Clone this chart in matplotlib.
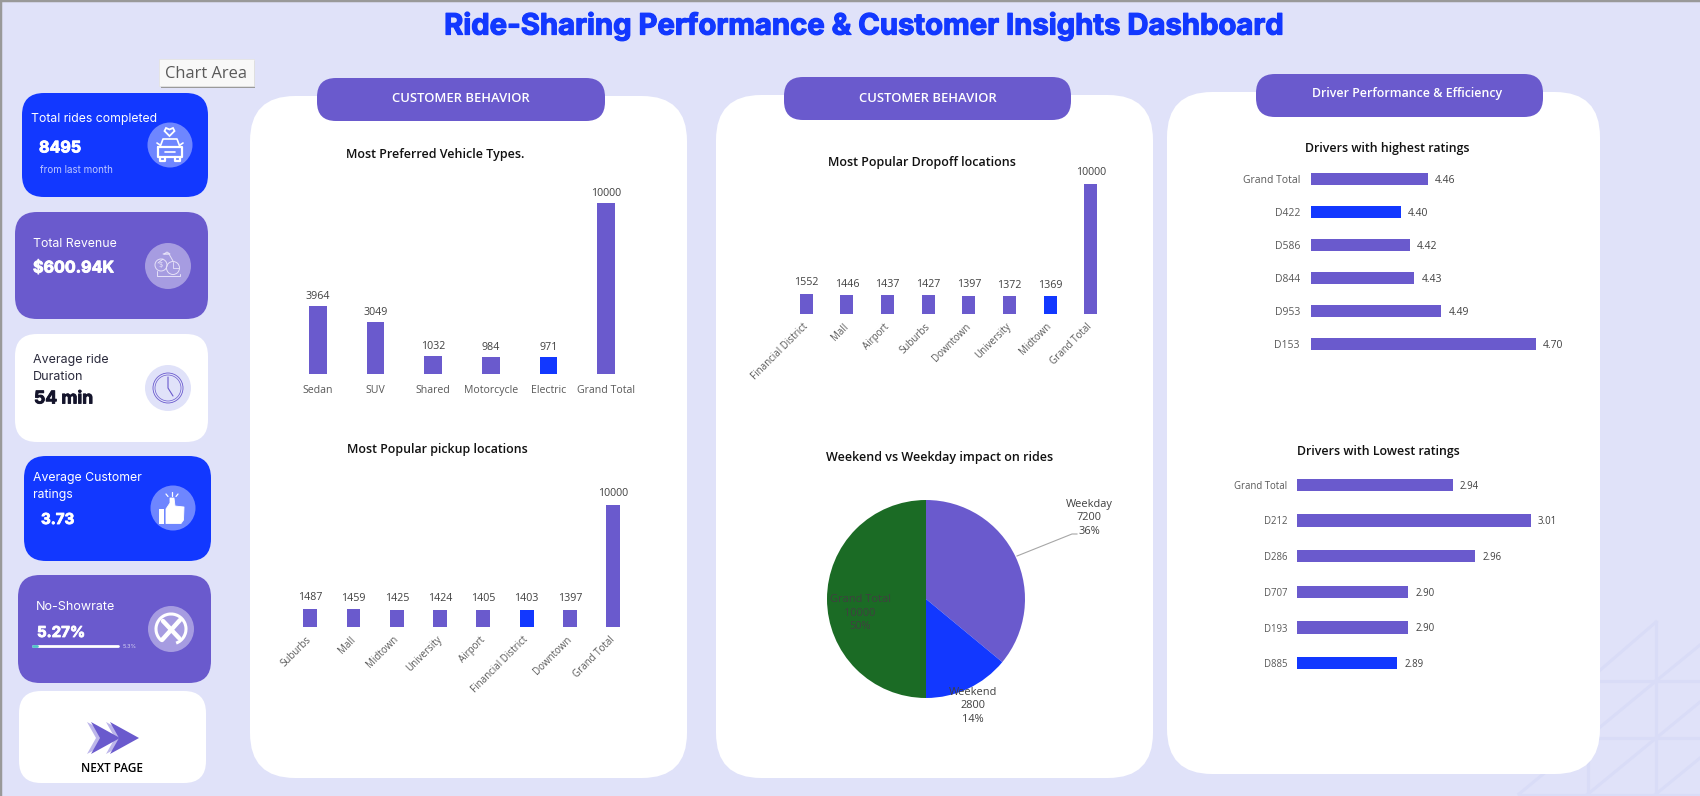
import numpy as np
import matplotlib
matplotlib.use('Agg')
import matplotlib.pyplot as plt
import matplotlib.patheffects as pe
from matplotlib.patches import FancyBboxPatch, Circle, Polygon, Arc, Rectangle

W, H = 1700, 796
BG = '#E0E2F9'
PURPLE = '#6A5ACD'
BLUE = '#1238FF'
GREEN = '#1B6B25'
HEAD_FONT = 'Inter'
BODY_FONT = 'Open Sans'

vehicle_types = ['Sedan', 'SUV', 'Shared', 'Motorcycle', 'Electric', 'Grand Total']
vehicle_rides = [3964, 3049, 1032, 984, 971, 10000]

pickup_places = ['Suburbs', 'Mall', 'Midtown', 'University', 'Airport', 'Financial District', 'Downtown', 'Grand Total']
pickup_rides = [1487, 1459, 1425, 1424, 1405, 1403, 1397, 10000]

dropoff_places = ['Financial District', 'Mall', 'Airport', 'Suburbs', 'Downtown', 'University', 'Midtown', 'Grand Total']
dropoff_rides = [1552, 1446, 1437, 1427, 1397, 1372, 1369, 10000]

day_types = ['Weekday', 'Weekend', 'Grand Total']
day_rides = [7200, 2800, 10000]
day_share = ['36%', '14%', '50%']

top_drivers = ['Grand Total', 'D422', 'D586', 'D844', 'D953', 'D153']
top_ratings = [4.46, 4.40, 4.42, 4.43, 4.49, 4.70]

low_drivers = ['Grand Total', 'D212', 'D286', 'D707', 'D193', 'D885']
low_ratings = [2.94, 3.01, 2.96, 2.90, 2.90, 2.89]

plt.rcParams['font.family'] = [BODY_FONT, 'DejaVu Sans']

fig = plt.figure(figsize=(W / 100, H / 100), dpi=100, facecolor=BG)
bg = fig.add_axes([0, 0, 1, 1], zorder=0)
bg.set_xlim(0, W)
bg.set_ylim(H, 0)
bg.axis('off')
renderer = fig.canvas.get_renderer()


def add_ax(x0, y0, x1, y1):
    ax = fig.add_axes([x0 / W, 1 - y1 / H, (x1 - x0) / W, (y1 - y0) / H], zorder=2)
    ax.patch.set_alpha(0)
    for s in ax.spines.values():
        s.set_visible(False)
    ax.tick_params(length=0)
    return ax


def txt(x, y, s, w=None, size=10, **kw):
    # w is the wanted text width in pixels, font size gets scaled to reach it
    kw.setdefault('va', 'center')
    t = bg.text(x, y, s, fontsize=size, **kw)
    if w:
        t.set_fontsize(size * w / t.get_window_extent(renderer).width)
    return t


def box(x0, y0, x1, y1, r, color, z=1, **kw):
    p = FancyBboxPatch((x0, y0), x1 - x0, y1 - y0, boxstyle='round,pad=0,rounding_size=%s' % r,
                       fc=color, ec='none', zorder=z, **kw)
    bg.add_patch(p)
    return p


def line(xs, ys, color='white', lw=1.2, z=5):
    bg.plot(xs, ys, color=color, lw=lw, solid_capstyle='round', solid_joinstyle='round', zorder=z)


# window edge
bg.plot([0, 0], [0, H], color='#999999', lw=2.5, zorder=9)
bg.plot([0, W], [0, 0], color='#999999', lw=2.5, zorder=9)

# triangle pattern in the lower right corner
PAT = '#D9DCF7'
for seg in [((1656, 1656), (622, 796)), ((1588, 1588), (740, 796)), ((1519, 1700), (794.5, 794.5)),
            ((1560, 1700), (681, 681)), ((1560, 1700), (738, 738)), ((1656, 1540), (622, 722)),
            ((1656, 1519), (681, 794)), ((1700, 1656), (645, 681)), ((1700, 1588), (702, 794)),
            ((1700, 1656), (758, 794))]:
    bg.plot(seg[0], seg[1], color=PAT, lw=2.2, zorder=0.5)

title = txt(864, 26.5, 'Ride-Sharing Performance & Customer Insights Dashboard', w=842, size=24, color=BLUE,
            ha='center', family=HEAD_FONT, weight='bold')
title.set_path_effects([pe.withStroke(linewidth=0.9, foreground=BLUE)])

# white panels and their header pills
box(250, 96, 687, 778, 45, 'white')
box(716, 95, 1153, 778, 45, 'white')
box(1167, 92, 1600, 774, 45, 'white')
box(317, 78, 605, 121, 19, PURPLE, z=3)
box(784, 77, 1071, 120, 19, PURPLE, z=3)
box(1256, 74, 1543, 117, 19, PURPLE, z=3)
txt(461, 98, 'CUSTOMER BEHAVIOR', w=137, color='white', ha='center', weight='semibold', zorder=4)
txt(928, 98, 'CUSTOMER BEHAVIOR', w=137, color='white', ha='center', weight='semibold', zorder=4)
txt(1407, 93, 'Driver Performance & Efficiency', w=190, color='white', ha='center', weight='semibold', zorder=4)

# KPI cards
box(22, 93, 208, 197, 22, BLUE)
box(15, 212, 208, 319, 22, PURPLE)
box(15, 334, 208, 442, 22, 'white')
box(24, 456, 211, 561, 22, BLUE)
box(18, 575, 211, 683, 22, PURPLE)
box(19, 691, 206, 783, 22, 'white')


def head(x, y, s, w, color='white', bold=False):
    t = txt(x, y + 1, s, w=w, color=color, family=HEAD_FONT, weight='bold' if bold else 'normal', zorder=4)
    if bold:
        t.set_path_effects([pe.withStroke(linewidth=0.6, foreground=color)])


head(31, 118, 'Total rides completed', 126)
head(39, 147, '8495', 42, bold=True)
head(40, 169, 'from last month', 73, color='#BCC6FF')
head(33, 243, 'Total Revenue', 84)
head(33, 267, '$600.94K', 81, bold=True)
head(33, 359, 'Average ride', 76, color='#2A2A3C')
head(33, 376, 'Duration', 51, color='#2A2A3C')
head(34, 398, '54 min', 59, color='#14142B', bold=True)
head(33, 477, 'Average Customer', 109)
head(33, 494, 'ratings', 40)
head(41, 519, '3.73', 33, bold=True)
head(36, 606, 'No-Showrate', 79)
head(37, 632, '5.27%', 48, bold=True)
head(123, 645, '5.3%', 14, color='#DAD6F3')
line([33, 118], [646, 646], lw=2)
line([33, 37], [646, 646], color='#4FC3C7', lw=2, z=6)

# car with a heart over it
bg.add_patch(Circle((170, 145), 22.5, fc='#6E86FF', ec='none', zorder=3))
line([160, 163, 177, 180], [147, 139, 139, 147])
line([158, 182, 182, 158, 158], [147, 147, 157, 157, 147], lw=1.6)
line([160, 160, 165, 165], [157, 161, 161, 157], lw=1.6)
line([175, 175, 180, 180], [157, 161, 161, 157], lw=1.6)
line([165, 175], [152, 152])
line([157, 160], [143, 145])
line([183, 180], [143, 145])
bg.add_patch(Polygon([(169.5, 136), (164.5, 131), (166, 128), (169.5, 129.5), (173, 128), (174.5, 131)],
                     fc='none', ec='white', lw=1.3, zorder=5))

# money bag and chart
C = '#E6E2F8'
bg.add_patch(Circle((168, 266), 23, fc='#A69CE1', ec='none', zorder=3))
bg.add_patch(Circle((161, 265), 6, fc='none', ec=C, lw=0.7, zorder=5))
bg.add_patch(Circle((173, 268), 6.5, fc='none', ec=C, lw=0.7, zorder=5))
line([173, 173, 179], [262, 268, 268], color=C, lw=0.6)
line([157, 157, 180, 180], [271, 276, 276, 274], color=C, lw=0.7)
line([163, 158], [259, 263], color=C, lw=0.7)
line([163, 169, 173], [254, 254, 261], color=C, lw=0.7)
line([164, 170, 167, 164], [254, 254, 252, 254], color=C, lw=0.7)
txt(161, 265, '$', size=5.5, color=C, ha='center', zorder=6)

# clock
bg.add_patch(Circle((168, 388), 23, fc=BG, ec='none', zorder=3))
bg.add_patch(Circle((168, 388), 15, fc='none', ec=PURPLE, lw=0.6, zorder=5))
bg.add_patch(Circle((168, 388), 13, fc='none', ec=PURPLE, lw=0.5, zorder=5))
line([168, 168, 173], [377, 388, 396], color=PURPLE, lw=0.8)

# thumbs up
bg.add_patch(Circle((173, 508), 22.5, fc='#6E86FF', ec='none', zorder=3))
bg.add_patch(Rectangle((159, 509), 5.5, 14.5, fc='white', ec='none', zorder=5))
bg.add_patch(Polygon([(166, 509), (170, 503), (170, 498), (174, 498), (175, 506), (184, 507), (183.5, 520),
                      (181, 523.5), (166, 523.5)], fc='white', ec='white', lw=0.6, joinstyle='round', zorder=5))
line([166, 168], [494, 496.5], lw=0.9)
line([172, 172], [492, 495.5], lw=0.9)
line([178, 176], [494, 496.5], lw=0.9)

# crossed circle
bg.add_patch(Circle((171, 629), 23, fc='#A69CE1', ec='none', zorder=3))
bg.add_patch(Arc((171, 629), 30, 30, theta1=130, theta2=430, ec='white', lw=2.2, zorder=5))
line([162, 180], [640, 620], lw=3.2)
line([163, 179], [621, 638], lw=3.2)

# double chevron above the next page label
for dx, col in [(-4, '#BDB6EA'), (0, PURPLE)]:
    for x0 in (91, 110):
        bg.add_patch(Polygon([(x0 + dx, 722), (x0 + 29 + dx, 738), (x0 + dx, 754), (x0 + 9 + dx, 738)],
                             fc=col, ec='none', zorder=4 + (dx == 0)))
txt(112, 768, 'NEXT PAGE', w=62, color='black', ha='center', weight='semibold', zorder=5)

# tooltip left over from the spreadsheet
bg.add_patch(Rectangle((161, 61), 94.5, 27, fc='#9A9A9A', ec='none', zorder=6))
bg.add_patch(Rectangle((159, 59), 95, 27, fc='#F8F8F8', ec='#E4E4E4', lw=0.6, zorder=7))
txt(165.5, 74, 'Chart Area', w=82, color='#5A5A5A', zorder=8)

# chart titles
for cx, cy, s, w in [(435, 153, 'Most Preferred Vehicle Types.', 178),
                     (437.5, 448, 'Most Popular pickup locations', 181),
                     (921.5, 161, 'Most Popular Dropoff locations', 189),
                     (939.5, 456, 'Weekend vs Weekday impact on rides', 227),
                     (1387, 147, 'Drivers with highest ratings', 164),
                     (1378, 450, 'Drivers with Lowest ratings', 162)]:
    txt(cx, cy + 1.5, s, w=w, color='#111111', ha='center', weight='semibold', zorder=4)

LABEL = '#404040'
TICK = '#595959'


def columns(box_px, names, values, hi, width, rotate, pad, label_pad):
    ax = add_ax(*box_px)
    x = np.arange(len(names))
    colors = [BLUE if i == hi else PURPLE for i in x]
    bars = ax.bar(x, values, width=width, color=colors)
    ax.set_xlim(-0.5, len(names) - 0.5)
    ax.set_ylim(0, 10000)
    ax.set_yticks([])
    ax.set_xticks(x)
    if rotate:
        ax.set_xticklabels(names, rotation=45, ha='right', va='center', rotation_mode='anchor',
                           fontsize=7.0, color=TICK)
    else:
        ax.set_xticklabels(names, fontsize=7.6, color=TICK)
    ax.tick_params(axis='x', pad=pad)
    ax.bar_label(bars, padding=label_pad, fontsize=7.7, color=LABEL)
    return ax


def rows(box_px, names, values, hi, xlim, height, size, pad):
    ax = add_ax(*box_px)
    y = np.arange(len(names))
    colors = [BLUE if i == hi else PURPLE for i in y]
    bars = ax.barh(y, values, height=height, color=colors)
    ax.set_xlim(*xlim)
    ax.set_ylim(len(names) - 0.5, -0.5)
    ax.set_xticks([])
    ax.set_yticks(y)
    ax.set_yticklabels(names, fontsize=size, color=TICK)
    ax.tick_params(axis='y', pad=pad)
    for lab in ax.bar_label(bars, fmt='%.2f', padding=5, fontsize=size, color=LABEL):
        lab.xyann = (5, -1)
    return ax


columns((289, 203, 635, 374), vehicle_types, vehicle_rides, 4, 0.31, False, 8, 3)
columns((288.5, 505, 635, 627), pickup_places, pickup_rides, 5, 0.32, True, 8, 4)
columns((786, 184, 1111, 314), dropoff_places, dropoff_rides, 6, 0.32, True, 8, 4)

rows((1311, 162.5, 1536, 360.5), top_drivers, top_ratings, 1, (4.2, 4.7), 0.36, 7.5, 8)
rows((1297, 467, 1531, 681), low_drivers, low_ratings, 5, (2.80, 3.01), 0.35, 6.9, 7)

# pie
pie_ax = add_ax(827, 500, 1025, 698)
pie_ax.pie(day_rides, colors=[PURPLE, BLUE, GREEN], startangle=90, counterclock=False, radius=1)
pie_ax.set_xlim(-1, 1)
pie_ax.set_ylim(-1, 1)
bg.plot([1017, 1072, 1077], [556, 534, 534], color='#A6A6A6', lw=0.8, zorder=3)
for (px, py), name, val, pct in zip([(1089, 518), (973, 706), (860, 613)], day_types, day_rides, day_share):
    fig.text(px / W, 1 - py / H, '%s\n%d\n%s' % (name, val, pct), fontsize=7.9, color=LABEL, ha='center',
             va='center', linespacing=1.32, zorder=6)

fig.savefig('out.png', dpi=100, facecolor=BG)
